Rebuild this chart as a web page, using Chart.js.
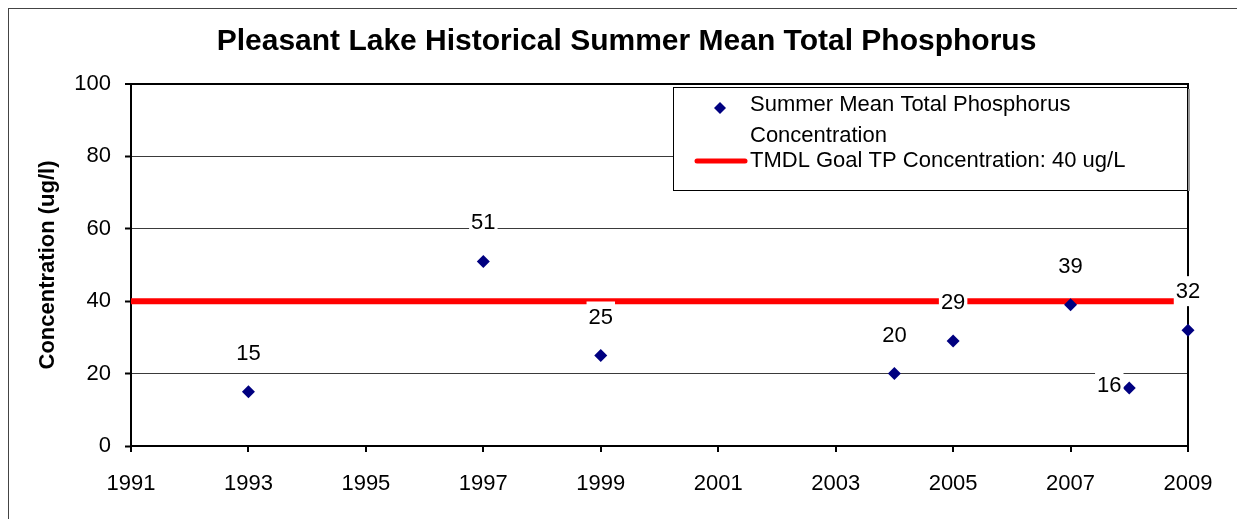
<!DOCTYPE html>
<html>
<head>
<meta charset="utf-8">
<title>Pleasant Lake Historical Summer Mean Total Phosphorus</title>
<script src="https://cdn.jsdelivr.net/npm/chart.js@4/dist/chart.umd.min.js"></script>
<style>
  html, body { margin: 0; padding: 0; background: #fff; overflow: hidden; }
  #wrap { position: relative; width: 1237px; height: 519px; }
  #frame { position: absolute; left: 8px; top: 8px; width: 1300px; height: 600px; border: 1px solid #444; }
  #canvas { position: absolute; left: 0; top: 0; }
</style>
</head>
<body>
<div id="wrap">
  <div id="frame"></div>
  <canvas id="canvas" width="1237" height="519"></canvas>
</div>
<script>
// summer mean total phosphorus, ug/l
var years = [1993, 1997, 1999, 2004, 2005, 2007, 2008, 2009];
var phosphorus = [15, 51, 25, 20, 29, 39, 16, 32];

// TMDL goal line spans the whole x range
var goalYears = [1991, 2009];
var goalValue = 40;

var seriesNames = ['Summer Mean Total Phosphorus Concentration', 'TMDL Goal TP Concentration: 40 ug/L'];
var legendLines = [['Summer Mean Total Phosphorus', 'Concentration'], ['TMDL Goal TP Concentration: 40 ug/L']];

var FONT = '"Liberation Sans", Arial, sans-serif';
var NAVY = '#000080';
var RED = '#ff0000';

var scatterData = years.map(function (y, i) { return { x: y, y: phosphorus[i] }; });
var goalData = goalYears.map(function (y) { return { x: y, y: goalValue }; });

// right edge of the plot frame (left/bottom come from the axis borders)
var framePlugin = {
  id: 'plotFrame',
  beforeDatasetsDraw: function (chart) {
    var a = chart.chartArea, ctx = chart.ctx;
    ctx.save();
    ctx.strokeStyle = '#000';
    ctx.lineWidth = 2;
    ctx.beginPath();
    ctx.moveTo(a.right, a.top - 1);
    ctx.lineTo(a.right, a.bottom);
    ctx.stroke();
    ctx.restore();
  }
};

// boxed legend in the upper right of the plot
var legendPlugin = {
  id: 'boxLegend',
  afterDatasetsDraw: function (chart) {
    var a = chart.chartArea, ctx = chart.ctx;
    var w = 514, h = 103;
    var L = a.right - w - 1, T = a.top + 3;
    ctx.save();
    ctx.fillStyle = '#fff';
    ctx.fillRect(L, T, w, h);
    ctx.strokeStyle = '#9a9a9a';
    ctx.lineWidth = 2;
    ctx.beginPath();
    ctx.moveTo(L + w + 2, T + 2);
    ctx.lineTo(L + w + 2, T + h + 1);
    ctx.stroke();
    ctx.strokeStyle = '#000';
    ctx.lineWidth = 1;
    ctx.strokeRect(L + 0.5, T + 0.5, w, h);

    // diamond marker
    ctx.fillStyle = NAVY;
    ctx.beginPath();
    ctx.moveTo(L + 47, T + 15);
    ctx.lineTo(L + 53, T + 21);
    ctx.lineTo(L + 47, T + 27);
    ctx.lineTo(L + 41, T + 21);
    ctx.closePath();
    ctx.fill();

    // red line sample
    ctx.strokeStyle = RED;
    ctx.lineWidth = 5;
    ctx.lineCap = 'round';
    ctx.beginPath();
    ctx.moveTo(L + 24, T + 74);
    ctx.lineTo(L + 72, T + 74);
    ctx.stroke();

    ctx.fillStyle = '#000';
    ctx.font = '22px ' + FONT;
    ctx.textAlign = 'left';
    ctx.textBaseline = 'middle';
    ctx.fillText(legendLines[0][0], L + 77, T + 18);
    ctx.fillText(legendLines[0][1], L + 77, T + 49);
    ctx.fillText(legendLines[1][0], L + 77, T + 74);
    ctx.restore();
  }
};

// value labels above each point, on a white box
var valueLabelPlugin = {
  id: 'valueLabels',
  afterDatasetsDraw: function (chart) {
    var meta = chart.getDatasetMeta(0), ctx = chart.ctx;
    ctx.save();
    ctx.font = '22px ' + FONT;
    ctx.textAlign = 'center';
    ctx.textBaseline = 'middle';
    meta.data.forEach(function (pt, i) {
      var text = String(phosphorus[i]);
      var dx = 0, dy = -39;
      if (years[i] === 2008) { dx = -20; dy = -3; }
      var x = pt.x + dx, y = pt.y + dy;
      var bw = ctx.measureText(text).width + 4, bh = 30;
      ctx.fillStyle = '#fff';
      ctx.fillRect(x - bw / 2, y - bh / 2, bw, bh);
      ctx.fillStyle = '#000';
      ctx.fillText(text, x, y + 1);
    });
    ctx.restore();
  }
};

var ctx = document.getElementById('canvas').getContext('2d');
var myChart = new Chart(ctx, {
  type: 'scatter',
  data: {
    datasets: [{
      label: seriesNames[0],
      data: scatterData,
      pointStyle: 'rectRot',
      pointRadius: 6.5,
      backgroundColor: NAVY,
      borderColor: NAVY,
      borderWidth: 0,
      clip: false,
      order: 0
    }, {
      type: 'line',
      label: seriesNames[1],
      data: goalData,
      borderColor: RED,
      borderWidth: 6,
      pointRadius: 0,
      fill: false,
      order: 1
    }]
  },
  options: {
    responsive: false,
    animation: false,
    events: [],
    layout: { padding: { left: 16, right: 0, top: 0, bottom: 0 } },
    plugins: {
      legend: { display: false },
      tooltip: { enabled: false },
      title: {
        display: true,
        text: 'Pleasant Lake Historical Summer Mean Total Phosphorus',
        color: '#000',
        font: { family: FONT, size: 30, weight: 'bold' },
        padding: { top: 24, bottom: 24 }
      }
    },
    scales: {
      x: {
        type: 'linear',
        min: 1991,
        max: 2009,
        afterFit: function (scale) { scale.height = 73; scale.paddingLeft = 0; scale.paddingRight = 49; },
        ticks: {
          stepSize: 2,
          color: '#000',
          padding: 19,
          maxRotation: 0,
          font: { family: FONT, size: 22 },
          callback: function (v) { return String(v); }
        },
        grid: { drawOnChartArea: false, color: '#000', lineWidth: 2, tickLength: 6 },
        border: { color: '#000', width: 2 }
      },
      y: {
        min: 0,
        max: 100,
        afterFit: function (scale) { scale.width = 115; scale.paddingTop = 0; scale.paddingBottom = 0; },
        ticks: {
          stepSize: 20,
          color: '#000',
          padding: 14,
          font: { family: FONT, size: 22 }
        },
        title: {
          display: true,
          text: 'Concentration (ug/l)',
          color: '#000',
          font: { family: FONT, size: 22, weight: 'bold' },
          padding: { top: 19, bottom: 0 }
        },
        grid: {
          color: function (c) { return c.tick && c.tick.value === 100 ? '#000' : '#3a3a3a'; },
          lineWidth: function (c) { return c.tick && c.tick.value === 100 ? 2 : 1; },
          tickColor: '#000',
          tickWidth: 2,
          tickLength: 6
        },
        border: { color: '#000', width: 2 }
      }
    }
  },
  plugins: [framePlugin, legendPlugin, valueLabelPlugin]
});
</script>
</body>
</html>
